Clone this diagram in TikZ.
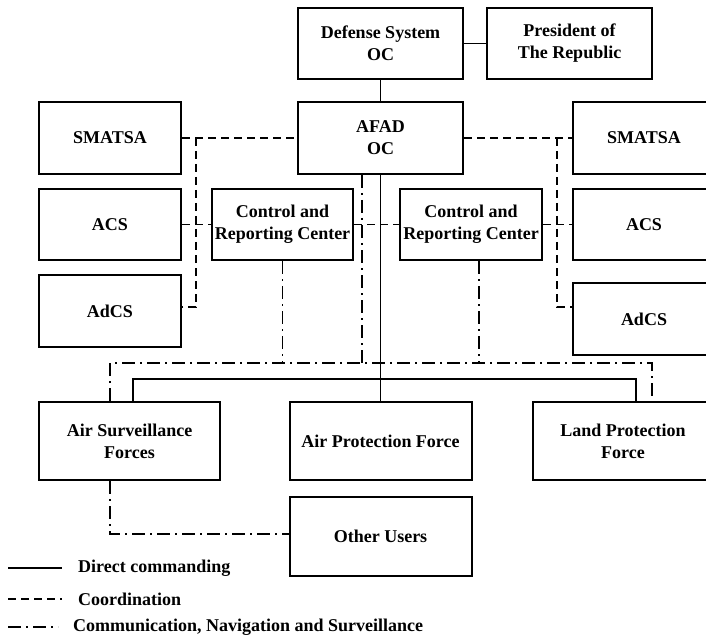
\documentclass[tikz,border=0pt]{standalone}
\usepackage{fontspec}
\setmainfont{Liberation Serif}

\begin{document}
\begin{tikzpicture}[x=1pt,y=-1pt,
    box/.style={draw,line width=2pt,align=center,inner sep=0pt,
      font=\bfseries\fontsize{18}{22}\selectfont},
    cmd/.style={line width=1.7pt},
    coord/.style={line width=1.7pt,dash pattern=on 8pt off 5pt},
    cns/.style={line width=1.7pt,dash pattern=on 13pt off 5pt on 2pt off 5pt},
    legtext/.style={anchor=west,inner sep=0pt,
      font=\bfseries\fontsize{18}{22}\selectfont}]
  \clip (0,0) rectangle (706,636);
  \pgfmathsetmacro\bw{142}
  \pgfmathsetmacro\bh{71}
  \pgfmathsetmacro\fw{182}
  \pgfmathsetmacro\fh{78}

% top: command
  \node[box,minimum width=165,minimum height=71] (def) at (380.5,43.5) {Defense System\\OC};
  \node[box,minimum width=165,minimum height=71] (pres) at (569.5,43.5) {President of\\The Republic};
  \node[box,minimum width=165,minimum height=72] (afad) at (380.5,138) {AFAD\\OC};

% left column
  \node[box,minimum width=\bw,minimum height=72] (smatsaL) at (110,138) {SMATSA};
  \node[box,minimum width=\bw,minimum height=\bh] (acsL) at (110,224.5) {ACS};
  \node[box,minimum width=\bw,minimum height=72] (adcsL) at (110,311) {AdCS};

% control and reporting centers
  \node[box,minimum width=141,minimum height=\bh] (crcL) at (282.5,224.5) {Control and\\Reporting Center};
  \node[box,minimum width=\bw,minimum height=\bh] (crcR) at (471,224.5) {Control and\\Reporting Center};

% right column (cut by the page edge)
  \node[box,minimum width=\bw,minimum height=72] (smatsaR) at (644,138) {SMATSA};
  \node[box,minimum width=\bw,minimum height=\bh] (acsR) at (644,224.5) {ACS};
  \node[box,minimum width=\bw,minimum height=72] (adcsR) at (644,319) {AdCS};

% forces
  \node[box,minimum width=181,minimum height=\fh] (asf) at (129.5,441) {Air Surveillance\\Forces};
  \node[box,minimum width=\fw,minimum height=\fh] (apf) at (380.5,441) {Air Protection Force};
  \node[box,minimum width=180,minimum height=\fh] (lpf) at (623,441) {Land Protection\\Force};
  \node[box,minimum width=\fw,minimum height=79] (other) at (380.5,536.5) {Other Users};

% direct commanding
  \coordinate (cbus) at (380.5,379);
  \draw[cmd] (def) -- (afad);
  \draw[cmd] (def) -- (pres);
  \draw[cmd] (afad.south) -- (apf.north);
  \draw[cmd] ([xshift=3.5]asf.north) |- (cbus) -| ([xshift=13]lpf.north);

% coordination
  \coordinate (dl) at (196,0);
  \coordinate (dr) at (557,0);
  \draw[coord] (smatsaL.east) -- (afad.west);
  \draw[coord] (smatsaL.east -| dl) |- ([yshift=4]adcsL.east);
  \draw[coord] (acsL) -- (crcL);
  \draw[coord] (crcL) -- (crcR);
  \draw[coord] (afad.east) -- (smatsaR.west);
  \draw[coord] (smatsaR.west -| dr) |- ([yshift=12]adcsR.west);
  \draw[coord] (crcR) -- (acsR);

% communication, navigation and surveillance
  \coordinate (nbus) at (380.5,363);
  \coordinate (afadcns) at ([xshift=-18.5]afad.south);
  \coordinate (crcRcns) at ([xshift=8]crcR.south);
  \draw[cns] ([xshift=-19.5]asf.north) |- (nbus) -| ([xshift=29]lpf.north);
  \draw[cns] (afadcns) -- (afadcns |- nbus);
  \draw[cns] (crcL.south) -- (crcL.south |- nbus);
  \draw[cns] (crcRcns) -- (crcRcns |- nbus);
  \draw[cns] ([xshift=-19.5]asf.south) |- ([yshift=2.5]other.west);

% legend
  \node[legtext] (lcmd) at (78,568) {Direct commanding};
  \node[legtext] (lcoord) at (78,599) {Coordination};
  \node[legtext] (lcns) at (73,627) {Communication, Navigation and Surveillance};
  \draw[cmd] (8,568) -- ([xshift=-16]lcmd.west);
  \draw[coord] (8,599) -- ([xshift=-16]lcoord.west);
  \draw[cns] (8,627) -- ([xshift=-15]lcns.west);
\end{tikzpicture}
\end{document}
